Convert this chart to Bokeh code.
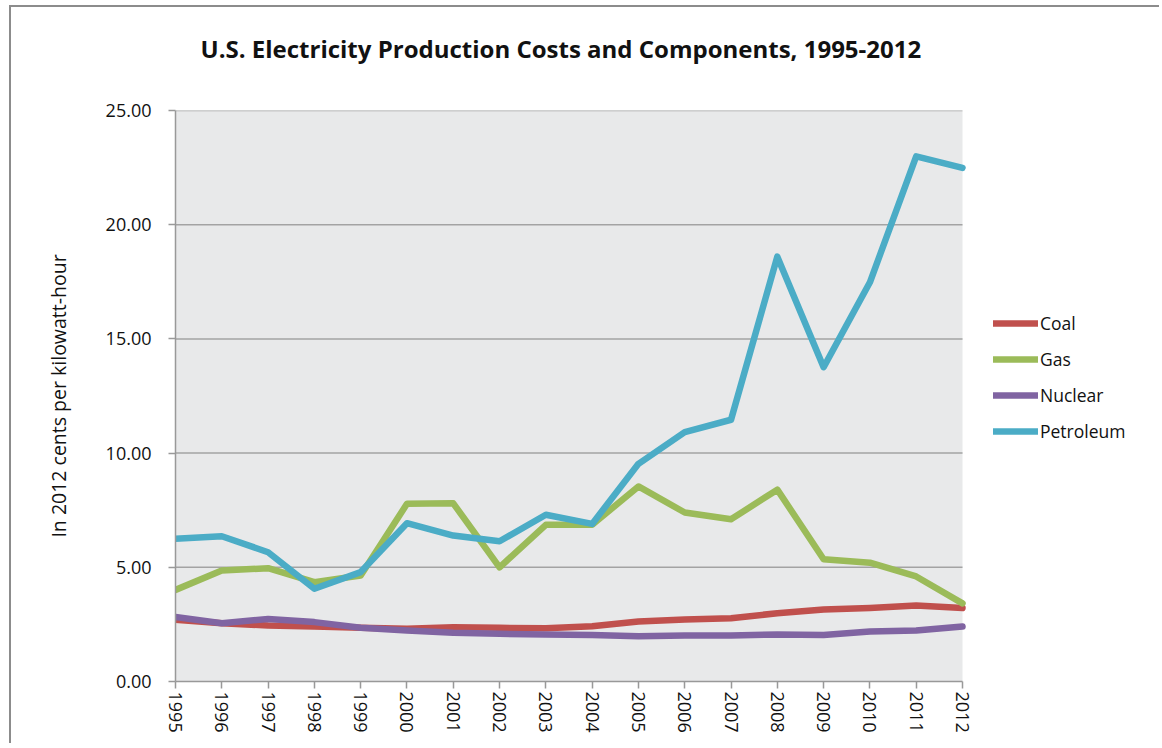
import math
from bokeh.plotting import figure
from bokeh.models import (FixedTicker, Legend, LegendItem, Range1d, Title,
                          NumeralTickFormatter, BoxAnnotation)
from bokeh.embed import file_html
from bokeh.resources import INLINE

years = list(range(1995, 2013))
coal = [2.70, 2.55, 2.45, 2.41, 2.35, 2.31, 2.38, 2.35, 2.33, 2.42, 2.63, 2.71, 2.77, 2.99, 3.15, 3.22, 3.33, 3.22]
gas = [4.01, 4.86, 4.96, 4.35, 4.64, 7.78, 7.80, 5.00, 6.86, 6.86, 8.54, 7.40, 7.10, 8.40, 5.35, 5.20, 4.60, 3.42]
nuclear = [2.82, 2.55, 2.74, 2.60, 2.35, 2.23, 2.13, 2.09, 2.06, 2.04, 1.98, 2.01, 2.01, 2.06, 2.04, 2.19, 2.23, 2.41]
petroleum = [6.25, 6.36, 5.66, 4.06, 4.79, 6.93, 6.39, 6.14, 7.30, 6.90, 9.53, 10.92, 11.46, 18.60, 13.76, 17.48, 22.99, 22.49]
y_ticks = [0, 5, 10, 15, 20, 25]

series = [("Coal", coal, "#c0504d"), ("Gas", gas, "#9bbb59"),
          ("Nuclear", nuclear, "#8064a2"), ("Petroleum", petroleum, "#4bacc6")]

FONT = "Open Sans"

# layout in pixels
W, H = 1150, 738
LEFT, TOP, BOTTOM = 164, 103, 64
PLOT_W = 787          # width of the grey plotting area
FRAME_W = W - LEFT    # frame extends to the right edge so the legend fits inside it
x_end = years[0] + (years[-1] - years[0]) * FRAME_W / PLOT_W

p = figure(width=W, height=H, output_backend="svg", toolbar_location=None,
           x_range=Range1d(years[0], x_end), y_range=Range1d(y_ticks[0], y_ticks[-1]),
           min_border_left=LEFT, min_border_right=0, min_border_top=TOP, min_border_bottom=BOTTOM,
           background_fill_color="white", border_fill_color="white",
           outline_line_color=None,
           styles={"border-left": "2px solid #8c8c8c", "border-top": "2px solid #8c8c8c",
                   "margin-left": "9px", "margin-top": "5px"})

# grey plot area
p.add_layout(BoxAnnotation(left=years[0], right=years[-1], bottom=y_ticks[0], top=y_ticks[-1],
                           fill_color="#e8e9ea", fill_alpha=1, line_color=None, level="underlay"))

# title (with a spacer panel between it and the plot)
p.title = Title(text="U.S. Electricity Production Costs and Components, 1995-2012",
                align="left", text_font=FONT, text_font_size="24px",
                text_font_style="bold", text_color="#111111", standoff=10, offset=25)
p.add_layout(Title(text=" ", text_font_size="1px", standoff=38), "above")

# horizontal gridlines over the plot area only
p.segment(x0=years[0], x1=years[-1], y0=y_ticks[1:], y1=y_ticks[1:],
          line_color="#a3a3a3", line_width=1.5)
p.xgrid.visible = False
p.ygrid.visible = False

items = []
for name, vals, col in series:
    r = p.line(years, vals, line_color=col, line_width=6.5, line_join="round", line_cap="round")
    items.append(LegendItem(label=name, renderers=[r]))

legend = Legend(items=items, location=(818, 238), glyph_width=45, glyph_height=20,
                label_height=20, spacing=12, label_standoff=2, padding=0, margin=0,
                border_line_color=None, background_fill_alpha=0,
                label_text_font=FONT, label_text_font_size="17.5px", label_text_color="#111111")
p.add_layout(legend, "center")

p.yaxis.ticker = FixedTicker(ticks=y_ticks)
p.yaxis.formatter = NumeralTickFormatter(format="0.00")
p.yaxis.axis_label = "In 2012 cents per kilowatt-hour"
p.yaxis.axis_label_text_font = FONT
p.yaxis.axis_label_text_font_size = "19.5px"
p.yaxis.axis_label_text_font_style = "normal"
p.yaxis.axis_label_text_color = "#111111"
p.yaxis.axis_label_standoff = 31
p.yaxis.major_label_standoff = 17

p.xaxis.ticker = FixedTicker(ticks=years)
p.xaxis.bounds = (years[0], years[-1])
p.xaxis.major_label_orientation = -math.pi / 2
p.xaxis.major_label_standoff = 3

for ax in (p.xaxis, p.yaxis):
    ax.axis_line_color = "#999999"
    ax.axis_line_width = 1.5
    ax.major_tick_line_color = "#999999"
    ax.major_tick_line_width = 1.5
    ax.major_tick_out = 7
    ax.major_tick_in = 0
    ax.minor_tick_line_color = None
    ax.major_label_text_font = FONT
    ax.major_label_text_font_size = "18px"
    ax.major_label_text_color = "#111111"

open("out.html", "w").write(file_html(p, INLINE))
